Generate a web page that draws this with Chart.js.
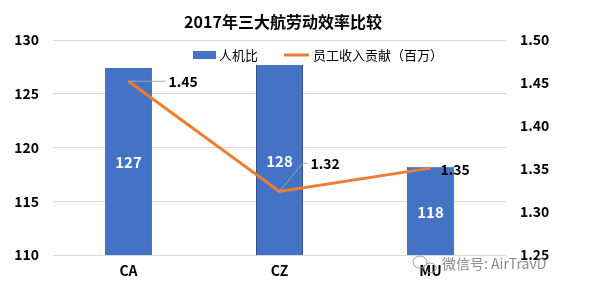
<!DOCTYPE html>
<html>
<head>
<meta charset="utf-8">
<script src="https://cdn.jsdelivr.net/npm/chart.js@4.4.1/dist/chart.umd.min.js"></script>
<style>
html,body{margin:0;padding:0;background:#fff;}
#wrap{width:606px;height:288px;position:relative;}
</style>
</head>
<body>
<div id="wrap"><canvas id="c" width="606" height="288"></canvas></div>
<script>
const categories = ['CA', 'CZ', 'MU'];
const ratioValues = [127.4, 127.7, 118.2];        // 人机比
const incomeValues = [1.452, 1.324, 1.351];       // 员工收入贡献（百万）
const incomeLabels = ['1.45', '1.32', '1.35'];
const leftTicks = [110, 115, 120, 125, 130];
const rightTicks = [1.25, 1.30, 1.35, 1.40, 1.45, 1.50];
const titleText = '2017年三大航劳动效率比较';
const seriesNames = ['人机比', '员工收入贡献（百万）'];
const watermark = '微信号: AirTravD';

const FONT = "'Noto Sans CJK SC', 'Noto Sans', sans-serif";
const BLUE = '#4472C4';
const ORANGE = '#ED7D31';

const overlay = {
  id: 'overlay',
  afterDatasetsDraw(chart) {
    const ctx = chart.ctx;
    ctx.save();
    // bar value labels
    const barMeta = chart.getDatasetMeta(0);
    const yScale = chart.scales.y;
    ctx.fillStyle = '#ffffff';
    ctx.font = 'bold 15px ' + FONT;
    ctx.textAlign = 'center';
    ctx.textBaseline = 'middle';
    barMeta.data.forEach((el, i) => {
      const top = yScale.getPixelForValue(ratioValues[i]);
      const bottom = yScale.getPixelForValue(yScale.min);
      ctx.fillText(String(Math.round(ratioValues[i])), el.x, (top + bottom) / 2 + 1);
    });
    // line value labels with leader lines
    const lineMeta = chart.getDatasetMeta(1);
    const offs = [
      {lead: [[37, 0]], tx: 40, ty: 0},
      {lead: [[23, -28], [28, -28]], tx: 31, ty: -28},
      {lead: null, tx: 10, ty: 2}
    ];
    ctx.font = 'bold 14px ' + FONT;
    ctx.textAlign = 'left';
    lineMeta.data.forEach((el, i) => {
      const o = offs[i];
      if (o.lead) {
        ctx.strokeStyle = '#A6A6A6';
        ctx.lineWidth = 1;
        ctx.beginPath();
        ctx.moveTo(el.x, el.y);
        o.lead.forEach(q => ctx.lineTo(el.x + q[0], el.y + q[1]));
        ctx.stroke();
      }
      ctx.fillStyle = '#000';
      ctx.fillText(incomeLabels[i], el.x + o.tx, el.y + o.ty);
    });
    ctx.restore();
  },
  afterDraw(chart) {
    const ctx = chart.ctx;
    ctx.save();
    // title
    ctx.fillStyle = '#000';
    ctx.font = 'bold 16px ' + FONT;
    ctx.textAlign = 'center';
    ctx.textBaseline = 'middle';
    ctx.fillText(titleText, 283, 22);
    // legend
    ctx.font = '13px ' + FONT;
    ctx.textAlign = 'left';
    ctx.fillStyle = BLUE;
    ctx.fillRect(193, 51, 23, 8);
    ctx.fillStyle = '#000';
    ctx.fillText(seriesNames[0], 219, 55);
    ctx.strokeStyle = ORANGE;
    ctx.lineWidth = 3;
    ctx.beginPath();
    ctx.moveTo(284, 55);
    ctx.lineTo(309, 55);
    ctx.stroke();
    ctx.fillText(seriesNames[1], 313, 55);
    // watermark
    ctx.strokeStyle = '#9a9a9a';
    ctx.lineWidth = 1;
    ctx.beginPath();
    ctx.ellipse(420, 262, 7, 6, 0, 0, Math.PI * 2);
    ctx.stroke();
    ctx.beginPath();
    ctx.ellipse(430, 268, 6, 5, 0, 0, Math.PI * 2);
    ctx.stroke();
    ctx.fillStyle = '#8c8c8c';
    ctx.font = '14px ' + FONT;
    ctx.fillText(watermark, 442, 264);
    ctx.restore();
  }
};

new Chart(document.getElementById('c'), {
  data: {
    labels: categories,
    datasets: [
      {
        type: 'bar',
        label: seriesNames[0],
        data: ratioValues,
        backgroundColor: BLUE,
        borderColor: ['#4472C4', '#2F4E8A', '#4472C4'],
        borderWidth: 1,
        categoryPercentage: 1,
        barPercentage: 0.311,
        yAxisID: 'y',
        order: 2
      },
      {
        type: 'line',
        label: seriesNames[1],
        data: incomeValues,
        borderColor: ORANGE,
        backgroundColor: ORANGE,
        borderWidth: 3,
        pointRadius: 0,
        tension: 0,
        yAxisID: 'y1',
        order: 1
      }
    ]
  },
  options: {
    responsive: false,
    animation: false,
    events: [],
    layout: {padding: {top: 40, left: 0, right: 0, bottom: 0}},
    plugins: {legend: {display: false}, title: {display: false}, tooltip: {enabled: false}},
    scales: {
      x: {
        grid: {display: false, drawTicks: false},
        border: {display: false},
        ticks: {color: '#000', font: {family: FONT, size: 14, weight: 'bold'}, padding: 7},
        afterFit(s) { s.height = 33; }
      },
      y: {
        position: 'left',
        min: 110, max: 130,
        afterBuildTicks(s) { s.ticks = leftTicks.map(v => ({value: v})); },
        grid: {color: '#D9D9D9', lineWidth: 1, drawTicks: false},
        border: {display: false},
        ticks: {color: '#000', font: {family: FONT, size: 14, weight: 'bold'}, padding: 14},
        afterFit(s) { s.width = 53; }
      },
      y1: {
        position: 'right',
        min: 1.25, max: 1.50,
        afterBuildTicks(s) { s.ticks = rightTicks.map(v => ({value: v})); },
        grid: {display: false, drawTicks: false},
        border: {display: false},
        ticks: {color: '#000', font: {family: FONT, size: 14, weight: 'bold'}, padding: 14,
          callback: v => Number(v).toFixed(2)},
        afterFit(s) { s.width = 100; }
      }
    }
  },
  plugins: [overlay]
});
</script>
</body>
</html>
